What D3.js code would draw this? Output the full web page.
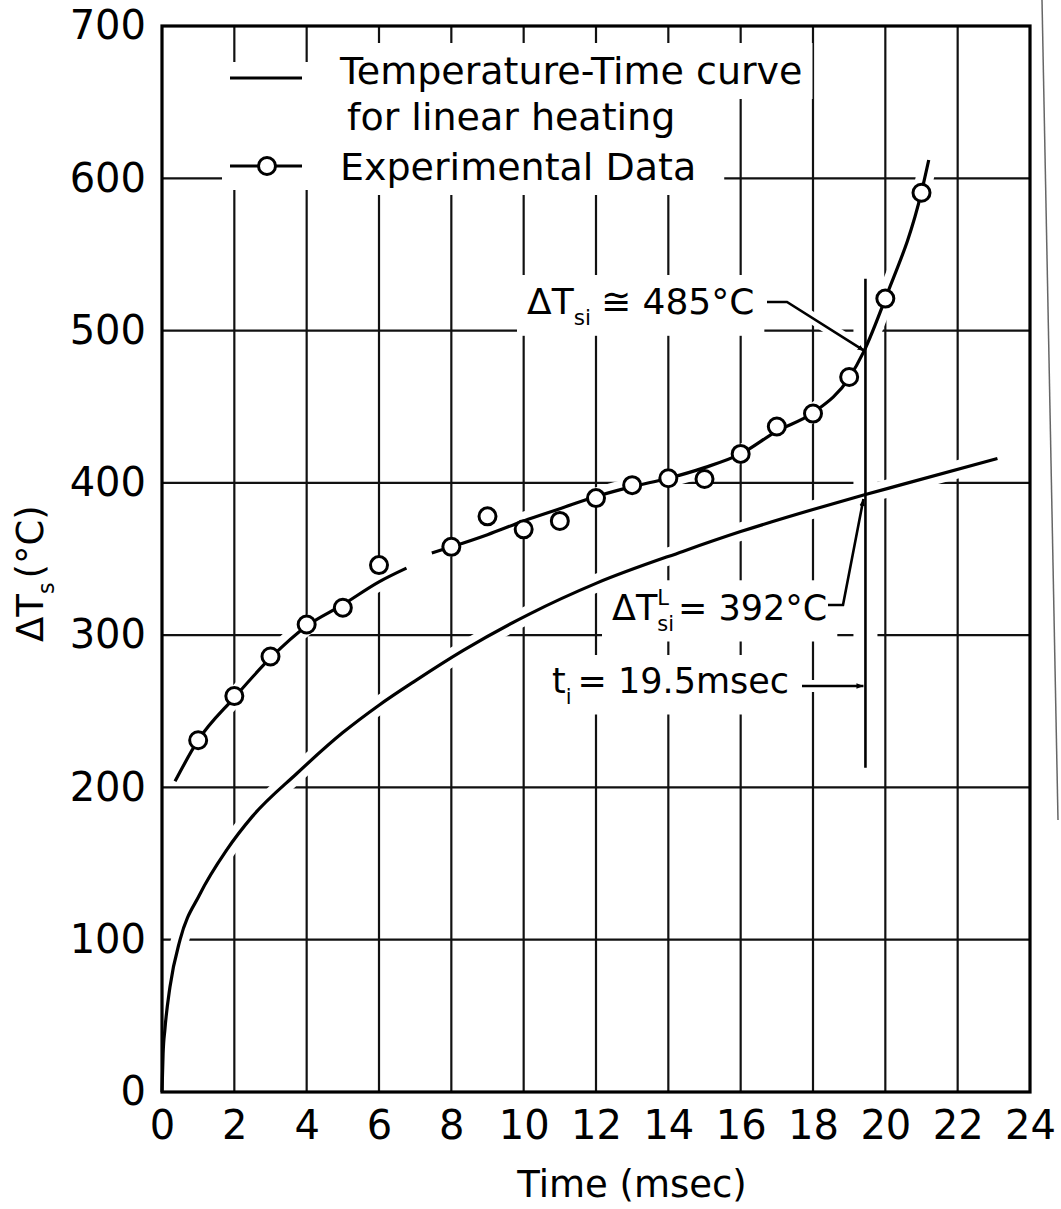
<!DOCTYPE html>
<html>
<head>
<meta charset="utf-8">
<script src="https://cdn.jsdelivr.net/npm/d3@7"></script>
<style>
  body { margin: 0; background: #fff; }
  svg { font-family: "DejaVu Sans", sans-serif; }
</style>
</head>
<body>
<div id="vis"></div>
<script>
const width = 1061;
const height = 1209;

// tick labels
const xTicks = [0, 2, 4, 6, 8, 10, 12, 14, 16, 18, 20, 22, 24];
const yTicks = [0, 100, 200, 300, 400, 500, 600, 700];

// experimental points (msec, degC)
const expTime = [1, 2, 3, 4, 5, 6, 8, 9, 10, 11, 12, 13, 14, 15, 16, 17, 18, 19, 20, 21];
const expTemp = [231, 260, 286, 307, 318, 346, 358, 378, 369.5, 375, 390, 398.5, 403, 402.5, 419, 437, 445.5, 469.5, 521, 590.5];

// hand drawn curve through the data, broken between ~6.8 and ~7.5 msec
const fitTimeA = [0.36, 1, 2, 3, 4, 5, 6, 6.76];
const fitTempA = [204, 231, 259, 285, 306, 320, 335, 344];
const fitTimeB = [7.46, 8, 9, 10, 11, 12, 13, 14, 15, 16, 17, 18, 19, 19.4, 20, 21, 21.2];
const fitTempB = [354, 358, 366, 375, 383, 391, 397.5, 403, 410, 419, 434, 446, 469, 486, 521, 591, 612];

// temperature-time curve for linear heating
const linTime = [0, 0.03, 0.08, 0.22, 0.5, 1.05, 1.79, 2.5, 3.72, 5, 6, 7, 8.33, 10.17, 12, 14.4, 16, 18, 19.4, 20.4, 23.1];
const linTemp = [0, 25, 41, 69, 100, 130, 159, 181, 209, 236, 254, 270, 290, 314, 334, 355, 368, 382.5, 392, 398.5, 416];

// ignition marker
const tIgn = 19.45;
const ignTop = 534;
const ignBottom = 213;
const ignExp = 486;
const ignLin = 392;

const svg = d3.select("#vis").append("svg")
  .attr("width", width)
  .attr("height", height);

const x = d3.scaleLinear().domain([0, 24]).range([162, 1030]);
const y = d3.scaleLinear().domain([0, 700]).range([1092, 26]);

svg.append("defs").append("marker")
  .attr("id", "arrow")
  .attr("viewBox", "0 0 10 10")
  .attr("refX", 10).attr("refY", 5)
  .attr("markerWidth", 7).attr("markerHeight", 7)
  .attr("markerUnits", "userSpaceOnUse")
  .attr("orient", "auto")
  .append("path").attr("d", "M0,1L10,5L0,9Z").attr("fill", "#000");

// layers
const gGrid = svg.append("g");
const gKnock = svg.append("g");
const gFrame = svg.append("g");
const gLines = svg.append("g");
const gDots = svg.append("g");
const gText = svg.append("g");

// grid
gGrid.selectAll(".vg")
  .data(xTicks.slice(1, -1))
  .enter().append("line")
  .attr("x1", d => x(d)).attr("x2", d => x(d))
  .attr("y1", y(0)).attr("y2", y(700))
  .attr("stroke", "#111").attr("stroke-width", 2.2);

gGrid.selectAll(".hg")
  .data(yTicks.slice(1, -1))
  .enter().append("line")
  .attr("x1", x(0)).attr("x2", x(24))
  .attr("y1", d => y(d)).attr("y2", d => y(d))
  .attr("stroke", "#111").attr("stroke-width", 2.2);

// axes (labels only)
const xAxis = gText.append("g")
  .attr("transform", `translate(0,${y(0)})`)
  .call(d3.axisBottom(x).tickValues(xTicks).tickSize(0).tickPadding(19));
const yAxis = gText.append("g")
  .attr("transform", `translate(${x(0)},0)`)
  .call(d3.axisLeft(y).tickValues(yTicks).tickSize(0).tickPadding(16));
[xAxis, yAxis].forEach(a => {
  a.select(".domain").remove();
  a.selectAll("text")
    .attr("font-family", "DejaVu Sans, sans-serif")
    .attr("font-size", 40)
    .attr("fill", "#000");
});

// axis titles
gText.append("text")
  .attr("x", 632).attr("y", 1197)
  .attr("text-anchor", "middle")
  .attr("font-size", 37)
  .text("Time (msec)");

// helper for text with sub/superscripts, left anchored
function label(g, x0, y0, parts, size) {
  const grp = g.append("g");
  let cx = x0;
  parts.forEach(p => {
    const fs = p.small ? size * 0.6 : size;
    const dy = p.sub ? size * 0.3 : (p.sup ? -size * 0.42 : 0);
    const t = grp.append("text")
      .attr("x", cx).attr("y", y0 + dy)
      .attr("font-size", fs)
      .text(p.t);
    if (!p.stack) cx += t.node().getComputedTextLength() + (p.gap || 0);
  });
  return grp;
}

const yTitle = gText.append("g").attr("transform", "translate(43,570) rotate(-90)");
label(yTitle, -72, 0, [{t: "ΔT"}, {t: "s", sub: true, small: true, gap: 4}, {t: "(°C)"}], 37);

// legend
const legRows = [];
gLines.append("line")
  .attr("x1", 230).attr("x2", 302).attr("y1", 78).attr("y2", 78)
  .attr("stroke", "#000").attr("stroke-width", 3);
gLines.append("line")
  .attr("x1", 230).attr("x2", 302).attr("y1", 166).attr("y2", 166)
  .attr("stroke", "#000").attr("stroke-width", 3);
gDots.append("circle")
  .attr("cx", 267).attr("cy", 166).attr("r", 8.5)
  .attr("fill", "#fff").attr("stroke", "#000").attr("stroke-width", 3);
legRows.push(label(gText, 340, 84, [{t: "Temperature-Time curve"}], 38));
legRows.push(label(gText, 347, 130, [{t: "for linear heating"}], 38));
legRows.push(label(gText, 340, 180, [{t: "Experimental Data"}], 38));

// annotations
const ann1 = label(gText, 527, 314, [{t: "ΔT"}, {t: "si", sub: true, small: true, gap: 10}, {t: "≅ 485°C"}], 36);
const ann2 = label(gText, 612, 620, [{t: "ΔT"}, {t: "L", sup: true, small: true, stack: true}, {t: "si", sub: true, small: true, gap: 4}, {t: "= 392°C"}], 35);
const ann3 = label(gText, 552, 693, [{t: "t"}, {t: "i", sub: true, small: true, gap: 6}, {t: "= 19.5msec"}], 35);

// knockouts behind text (drafting style broken grid)
function knock(grp, padX, padY, extraRight) {
  const b = grp.node().getBBox();
  gKnock.append("rect")
    .attr("x", b.x - padX).attr("y", b.y - padY)
    .attr("width", b.width + 2 * padX + (extraRight || 0))
    .attr("height", b.height + 2 * padY)
    .attr("fill", "#fff");
}
knock(ann1, 10, 6);
knock(ann2, 10, 6);
knock(ann3, 10, 6);
knock(legRows[0], 10, 6);
knock(legRows[1], 10, 4);
knock(legRows[2], 10, 6, 18);
gKnock.append("rect").attr("x", 222).attr("y", 62).attr("width", 120).attr("height", 128).attr("fill", "#fff");

// curves
const line = d3.line()
  .x(d => x(d[0])).y(d => y(d[1]))
  .curve(d3.curveMonotoneX);

const fitA = fitTimeA.map((t, i) => [t, fitTempA[i]]);
const fitB = fitTimeB.map((t, i) => [t, fitTempB[i]]);
const lin = linTime.map((t, i) => [t, linTemp[i]]);

// ignition marker geometry
const ignX = x(tIgn);
const arrow485 = [[767, 302], [787, 302], [ignX - 1, y(ignExp) - 1]];
const arrow392 = [[828, 605], [843, 605], [ignX - 2, y(ignLin) + 4]];
const arrowT = [[802, 686], [ignX - 2, 686]];

// white halos so the grid breaks where lines cross it
[fitA, fitB, lin].forEach(d => {
  gKnock.append("path").attr("d", line(d))
    .attr("fill", "none").attr("stroke", "#fff").attr("stroke-width", 18);
});
gKnock.append("line")
  .attr("x1", ignX).attr("x2", ignX).attr("y1", y(ignTop)).attr("y2", y(ignBottom))
  .attr("stroke", "#fff").attr("stroke-width", 24);
[arrow485, arrow392, arrowT].forEach(p => {
  gKnock.append("path").attr("d", d3.line()(p))
    .attr("fill", "none").attr("stroke", "#fff").attr("stroke-width", 12);
});

// frame
gFrame.append("rect")
  .attr("x", x(0)).attr("y", y(700))
  .attr("width", x(24) - x(0)).attr("height", y(0) - y(700))
  .attr("fill", "none").attr("stroke", "#000").attr("stroke-width", 3.2);

[fitA, fitB, lin].forEach(d => {
  gLines.append("path").attr("d", line(d))
    .attr("fill", "none").attr("stroke", "#000").attr("stroke-width", 3.2);
});

gLines.append("line")
  .attr("x1", ignX).attr("x2", ignX).attr("y1", y(ignTop)).attr("y2", y(ignBottom))
  .attr("stroke", "#000").attr("stroke-width", 2.6);

[arrow485, arrow392, arrowT].forEach(p => {
  gLines.append("path").attr("d", d3.line()(p))
    .attr("fill", "none").attr("stroke", "#000").attr("stroke-width", 2.6)
    .attr("marker-end", "url(#arrow)");
});

// data points
gDots.selectAll(".pt")
  .data(expTime.map((t, i) => [t, expTemp[i]]))
  .enter().append("circle")
  .attr("cx", d => x(d[0])).attr("cy", d => y(d[1]))
  .attr("r", 8.5)
  .attr("fill", "#fff").attr("stroke", "#000").attr("stroke-width", 3);

// scan edge of the page
svg.append("line")
  .attr("x1", 1042).attr("y1", 0).attr("x2", 1058).attr("y2", 820)
  .attr("stroke", "#666").attr("stroke-width", 1.5);
</script>
</body>
</html>
